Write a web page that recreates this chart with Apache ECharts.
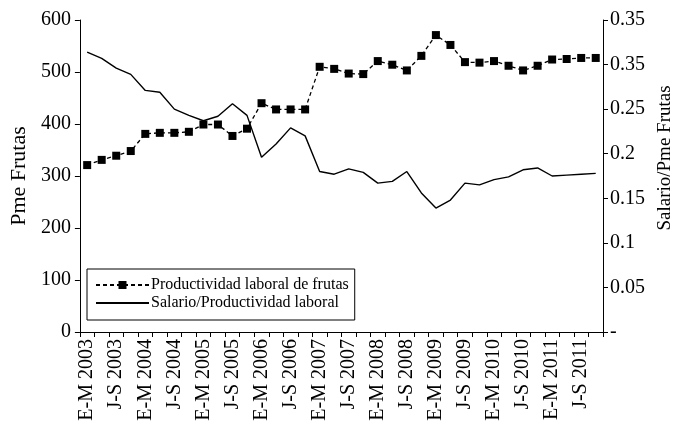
<!DOCTYPE html>
<html>
<head>
<meta charset="utf-8">
<script src="https://cdn.jsdelivr.net/npm/echarts@6/dist/echarts.min.js"></script>
<style>html,body{margin:0;padding:0;background:#fff}#c{width:686px;height:425px}</style>
</head>
<body>
<div id="c"></div>
<script>
const categories = [
  "E-M 2003","A-J 2003","J-S 2003","O-D 2003",
  "E-M 2004","A-J 2004","J-S 2004","O-D 2004",
  "E-M 2005","A-J 2005","J-S 2005","O-D 2005",
  "E-M 2006","A-J 2006","J-S 2006","O-D 2006",
  "E-M 2007","A-J 2007","J-S 2007","O-D 2007",
  "E-M 2008","A-J 2008","J-S 2008","O-D 2008",
  "E-M 2009","A-J 2009","J-S 2009","O-D 2009",
  "E-M 2010","A-J 2010","J-S 2010","O-D 2010",
  "E-M 2011","A-J 2011","J-S 2011","O-D 2011"
];
const productividad = [321,331,339,348,381,383,383,385,399,399,377,391,440,428,428,428,510,506,497,496,521,514,503,531,571,552,519,518,521,512,503,512,524,525,527,527];
const salarioRatio = [0.314,0.307,0.296,0.289,0.271,0.269,0.250,0.243,0.237,0.242,0.256,0.243,0.196,0.211,0.229,0.220,0.180,0.177,0.183,0.179,0.167,0.169,0.180,0.156,0.139,0.148,0.167,0.165,0.171,0.174,0.182,0.184,0.175,0.176,0.177,0.178];
const rightTickLabels = ["-","0.05","0.1","0.15","0.2","0.25","0.35","0.35"];
const seriesNames = ["Productividad laboral de frutas","Salario/Productividad laboral"];

const FONT = "Liberation Serif";
const chart = echarts.init(document.getElementById('c'), null, {renderer:'canvas'});
chart.setOption({
  animation: false,
  backgroundColor: '#fff',
  textStyle: {fontFamily: FONT, color: '#000'},
  grid: {left: 77, right: 83, top: 20, bottom: 93, containLabel: false},
  legend: {
    orient: 'vertical',
    left: 87, top: 269,
    padding: [8, 6, 9, 8],
    itemGap: 2,
    itemWidth: 53,
    itemHeight: 10,
    borderColor: '#000', borderWidth: 1,
    backgroundColor: '#fff',
    textStyle: {fontFamily: FONT, fontSize: 16, lineHeight: 16, color: '#000', padding: [0,0,0,-3]},
    data: [
      {name: seriesNames[0]},
      {name: seriesNames[1], itemStyle: {opacity: 0}}
    ]
  },
  xAxis: {
    type: 'category',
    data: categories,
    boundaryGap: true,
    axisLine: {lineStyle: {color: '#000', width: 1}},
    axisTick: {show: true, interval: 0, length: 5, lineStyle: {color: '#000'}},
    axisLabel: {interval: 1, rotate: 90, margin: 7, fontFamily: FONT, fontSize: 20, color: '#000'},
    splitLine: {show: false}
  },
  yAxis: [
    {
      type: 'value', min: 0, max: 600, interval: 100,
      name: 'Pme Frutas', nameLocation: 'middle', nameGap: 48, nameRotate: 90,
      nameTextStyle: {fontFamily: FONT, fontSize: 22, color: '#000'},
      axisLine: {show: true, lineStyle: {color: '#000', width: 1}},
      axisTick: {show: true, length: 5, lineStyle: {color: '#000'}},
      axisLabel: {margin: 9, fontFamily: FONT, fontSize: 20, color: '#000'},
      splitLine: {show: false}
    },
    {
      type: 'value', min: 0, max: 0.35, interval: 0.05, position: 'right',
      name: 'Salario/Pme Frutas', nameLocation: 'middle', nameGap: 49, nameRotate: 90,
      nameTextStyle: {fontFamily: FONT, fontSize: 19, color: '#000', padding: [0,0,0,36]},
      axisLine: {show: true, lineStyle: {color: '#000', width: 1}},
      axisTick: {show: true, length: 5, lineStyle: {color: '#000'}},
      axisLabel: {margin: 7, fontFamily: FONT, fontSize: 20, color: '#000',
        formatter: v => rightTickLabels[Math.round(v / 0.05)]},
      splitLine: {show: false}
    }
  ],
  series: [
    {
      name: seriesNames[0], type: 'line', yAxisIndex: 0,
      data: productividad,
      symbol: 'rect', symbolSize: 8,
      itemStyle: {color: '#000'},
      lineStyle: {color: '#000', width: 1.3, type: [4, 3]}
    },
    {
      name: seriesNames[1], type: 'line', yAxisIndex: 1,
      data: salarioRatio,
      symbol: 'none',
      itemStyle: {color: '#000'},
      lineStyle: {color: '#000', width: 1.4, type: 'solid'}
    }
  ]
});
</script>
</body>
</html>
